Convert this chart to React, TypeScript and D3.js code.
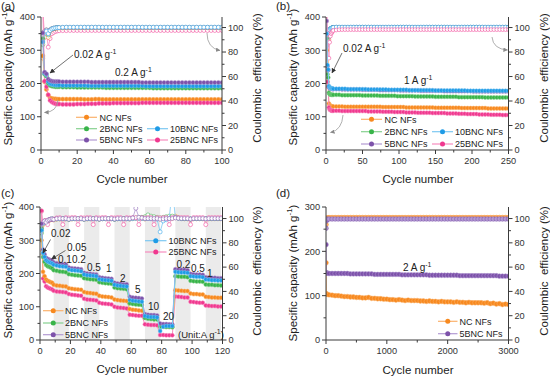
import React from "react";
import * as d3 from "d3";

const FONT = "Arial, 'Liberation Sans', Helvetica, sans-serif";

const NAMES = ["NC NFs", "2BNC NFs", "5BNC NFs", "10BNC NFs", "25BNC NFs"];
const DOT = ["#f7891f", "#38b449", "#7d52aa", "#1f9be6", "#f0388f"];
const LINE = ["#fbb26c", "#86d18f", "#b39ad3", "#7cc8f2", "#f78cbf"];

// ---------------- Panel (a): 0.2 A g-1, 100 cycles ----------------
const cyclesA = [1, 2, 3, 4, 5, 6, 7, 8, 9, 10, ...d3.range(12, 101, 2)];
const capA_NC = [283,205,182,165,157,155,154,154,153,153, 153,153,153,153,153,153,152,152,152,153, 153,152,152,152,152,152,152,152,152,152, 152,152,152,152,152,152,152,152,152,152, 152,152,152,152,152,152,152,152,152,152, 152,152,152,152,152];
const capA_2B = [335,228,222,200,194,192,191,190,190,190, 189,189,189,189,188,188,188,188,188,188, 188,188,187,187,187,187,187,187,187,187, 187,187,187,187,187,186,186,186,186,186, 186,186,186,186,186,186,186,186,186,186, 186,186,186,186,186];
const capA_5B = [352,234,229,213,209,207,206,206,206,206, 205,205,205,205,205,205,205,205,204,204, 204,204,204,204,204,204,204,204,204,204, 204,204,203,203,203,203,203,203,203,203, 203,203,203,203,203,203,203,203,203,203, 203,203,203,203,203];
const capA_10B = [325,231,226,206,199,197,196,195,195,195, 194,194,194,194,194,194,194,193,193,193, 193,193,193,193,193,193,193,193,193,193, 193,193,193,192,192,192,192,192,192,192, 192,192,192,192,192,192,192,192,192,192, 192,192,192,192,192];
const capA_25B = [430,207,190,166,149,144,141,139,138,138, 137,137,137,137,138,138,138,139,139,139, 140,140,140,140,141,141,141,141,141,141, 141,141,142,142,142,142,142,142,142,142, 142,142,142,142,142,142,142,142,142,142, 142,142,142,142,142];
const ceA_NC = [75,95,97,92,97,98.5,99,99.4,99.6,99.7, 99.7,99.8,99.8,99.8,99.8,99.8,99.8,99.8,99.9,99.9, 99.9,99.9,99.9,99.9,99.9,99.9,99.9,99.9,99.9,99.9, 99.9,99.9,99.9,99.9,99.9,99.9,99.9,99.9,99.9,99.9, 99.9,99.9,99.9,99.9,99.9,99.9,99.9,99.9,99.9,99.9, 99.9,99.9,99.9,99.9,99.9];
const ceA_2B = [86,97,98,94,98,99,99.4,99.6,99.8,99.9, 100,100,100,100,100,100,100,100,100,100, 100,100,100,100,100,100,100,100,100,100, 100,100,100,100,100,100,100,100,100,100, 100,100,100,100,100,100,100,100,100,100, 100,100,100,100,100];
const ceA_5B = [90,97,98,95,98,99,99.5,99.7,99.8,99.9, 100.1,100.1,100.1,100.1,100.1,100.1,100.1,100.1,100.1,100.1, 100.1,100.1,100.1,100.1,100.1,100.1,100.1,100.1,100.1,100.1, 100.1,100.1,100.1,100.1,100.1,100.1,100.1,100.1,100.1,100.1, 100.1,100.1,100.1,100.1,100.1,100.1,100.1,100.1,100.1,100.1, 100.1,100.1,100.1,100.1,100.1];
const ceA_10B = [93,96,97,95,97.5,98.8,99.4,99.7,99.9,100, 100.2,100.3,100.3,100.3,100.3,100.3,100.3,100.3,100.3,100.3, 100.3,100.3,100.3,100.3,100.3,100.3,100.3,100.3,100.3,100.3, 100.3,100.3,100.3,100.3,100.3,100.3,100.3,100.3,100.3,100.3, 100.3,100.3,100.3,100.3,100.3,100.3,100.3,100.3,100.3,100.3, 100.3,100.3,100.3,100.3,100.3];
const ceA_25B = [115,92,96,84,91,95,96,96.8,97.2,97.4, 97.5,97.5,97.6,97.6,97.6,97.6,97.6,97.6,97.6,97.6, 97.6,97.6,97.6,97.6,97.6,97.6,97.6,97.6,97.6,97.6, 97.6,97.6,97.6,97.6,97.6,97.6,97.6,97.6,97.6,97.6, 97.6,97.6,97.6,97.6,97.6,97.6,97.6,97.6,97.6,97.6, 97.6,97.6,97.6,97.6,97.6];

// ---------------- Panel (b): 1 A g-1, 250 cycles ----------------
const cyclesB = [1, 2, 3, 4, 5, 6, 7, 8, 9, ...d3.range(10, 251, 4)];
const capB_NC = [300,205,192,140,135,133,132,131,131, 131,131,131,131,130,130,130,130,130,130, 130,130,130,130,130,130,130,129,129,129, 129,129,129,129,129,128,128,128,128,128, 128,128,128,128,128,127,127,127,127,127, 127,127,127,127,126,126,126,126,126,126, 126,126,126,125,125,125,125,125,125,125, 125];
const capB_2B = [335,228,218,172,168,167,166,166,166, 166,166,166,165,165,165,165,165,165,165, 164,164,164,164,164,164,163,163,163,163, 163,163,162,162,162,162,162,162,161,161, 161,161,161,161,161,160,160,160,160,160, 160,160,160,159,159,159,159,159,159,159, 159,159,158,158,158,158,158,158,158,158, 158];
const capB_5B = [388,252,240,190,186,185,184,184,183, 183,183,183,182,182,182,182,182,182,182, 181,181,181,181,181,181,180,180,180,180, 180,180,180,179,179,179,179,179,179,179, 178,178,178,178,178,178,178,178,177,177, 177,177,177,177,177,177,177,177,176,176, 176,176,176,176,176,176,176,176,176,176, 176];
const capB_10B = [350,256,242,192,188,187,186,185,185, 184,184,184,184,184,183,183,183,183,183, 183,183,182,182,182,182,182,182,182,181, 181,181,181,181,181,181,180,180,180,180, 180,180,180,180,180,179,179,179,179,179, 179,179,179,179,179,179,178,178,178,178, 178,178,178,178,178,178,178,178,178,178, 178];
const capB_25B = [430,205,190,128,122,120,119,118,118, 118,118,118,117,117,117,117,117,117,117, 117,117,116,116,116,116,116,115,115,115, 115,114,114,114,114,113,113,113,113,112, 112,112,112,112,111,111,111,111,111,110, 110,110,110,109,109,109,108,108,108,108, 107,107,107,107,106,106,106,106,105,105, 105];
const ceB_NC = [72,96,98,90,97,98.5,99,99.5,99.7, 99.9,100,100,100,100,100,100,100,100,100, 100,100,100,100,100,100,100,100,100,100, 100,100,100,100,100,100,100,100,100,100, 100,100,100,100,100,100,100,100,100,100, 100,100,100,100,100,100,100,100,100,100, 100,100,100,100,100,100,100,100,100,100, 100];
const ceB_2B = [85,97,98,92,97,99,99.4,99.6,99.8, 100,100.2,100.2,100.2,100.2,100.2,100.2,100.2,100.2,100.2, 100.2,100.2,100.2,100.2,100.2,100.2,100.2,100.2,100.2,100.2, 100.2,100.2,100.2,100.2,100.2,100.2,100.2,100.2,100.2,100.2, 100.2,100.2,100.2,100.2,100.2,100.2,100.2,100.2,100.2,100.2, 100.2,100.2,100.2,100.2,100.2,100.2,100.2,100.2,100.2,100.2, 100.2,100.2,100.2,100.2,100.2,100.2,100.2,100.2,100.2,100.2, 100.2];
const ceB_5B = [60,96,98,93,97,99,99.4,99.6,99.8, 100,100.2,100.2,100.2,100.2,100.2,100.2,100.2,100.2,100.2, 100.2,100.2,100.2,100.2,100.2,100.2,100.2,100.2,100.2,100.2, 100.2,100.2,100.2,100.2,100.2,100.2,100.2,100.2,100.2,100.2, 100.2,100.2,100.2,100.2,100.2,100.2,100.2,100.2,100.2,100.2, 100.2,100.2,100.2,100.2,100.2,100.2,100.2,100.2,100.2,100.2, 100.2,100.2,100.2,100.2,100.2,100.2,100.2,100.2,100.2,100.2, 100.2];
const ceB_10B = [90,97,98,93,98,99,99.5,99.7,99.8, 100.2,100.4,100.4,100.4,100.4,100.4,100.4,100.4,100.4,100.4, 100.4,100.4,100.4,100.4,100.4,100.4,100.4,100.4,100.4,100.4, 100.4,100.4,100.4,100.4,100.4,100.4,100.4,100.4,100.4,100.4, 100.4,100.4,100.4,100.4,100.4,100.4,100.4,100.4,100.4,100.4, 100.4,100.4,100.4,100.4,100.4,100.4,100.4,100.4,100.4,100.4, 100.4,100.4,100.4,100.4,100.4,100.4,100.4,100.4,100.4,100.4, 100.4];
const ceB_25B = [115,90,95,75,88,93,95,96,97, 97.6,98,98.2,98.3,98.3,98.3,98.3,98.3,98.3,98.3, 98.3,98.3,98.3,98.3,98.3,98.3,98.3,98.3,98.3,98.3, 98.3,98.3,98.3,98.3,98.3,98.3,98.3,98.3,98.3,98.3, 98.3,98.3,98.3,98.3,98.3,98.3,98.3,98.3,98.3,98.3, 98.3,98.3,98.3,98.3,98.3,98.3,98.3,98.3,98.3,98.3, 98.3,98.3,98.3,98.3,98.3,98.3,98.3,98.3,98.3,98.3, 98.3];

// ---------------- Panel (c): rate test, 120 cycles ----------------
const cyclesC = [1, 2, 3, 4, 5, 6, 7, 8, ...d3.range(9, 120, 2)];
const bandsC: [number, number][] = [[9, 19], [29, 39], [49, 59], [69, 79], [89, 99], [109, 119]];
const rateLabelsC = ["0.02", "0.05", "0.1", "0.2", "0.5", "1", "2", "5", "10", "20", "0.2", "0.5", "1"];
const capC_NC = [300,205,192, 182,178,176,174,172, 166,164,163,162,161, 156,154,153,152,151, 144,142,141,140,139, 133,131,130,129,128, 122,120,119,118,117, 93,91,90,89,88, 68,67,66,66,65, 42,41,40,40,40, 150,149,148,147,147, 140,138,138,137,137, 130,129,128,128,127,127];
const capC_2B = [335,250,235, 226,222,220,218,216, 210,208,206,205,204, 198,196,195,194,193, 186,184,183,182,181, 174,172,171,170,169, 158,156,155,154,153, 110,108,107,106,105, 66,64,63,62,62, 40,40,39,39,38, 192,191,190,190,189, 178,177,176,176,175, 167,166,166,165,165,164];
const capC_5B = [350,272,258, 247,244,242,240,238, 233,231,229,228,227, 218,216,215,214,213, 202,200,199,198,197, 189,187,186,185,184, 172,170,169,168,168, 130,128,127,126,125, 78,76,75,75,74, 50,48,48,47,47, 213,212,211,211,210, 199,198,197,197,196, 189,188,187,187,186,186];
const capC_10B = [330,262,250, 240,236,234,232,230, 226,224,222,221,220, 212,210,209,208,207, 197,195,194,193,192, 183,181,180,179,178, 166,164,163,162,161, 120,118,117,116,115, 72,70,69,69,68, 27,40,42,42,42, 205,204,203,203,202, 192,191,190,190,189, 182,181,180,180,179,179];
const capC_25B = [389,185,176, 162,158,156,154,152, 148,146,145,144,143, 138,136,135,134,133, 124,122,121,120,119, 112,110,109,108,107, 100,98,97,96,95, 76,75,74,73,73, 47,46,45,45,44, 15,15,14,14,14, 131,130,129,128,128, 115,114,113,112,112, 104,103,102,102,101,101];
const ceC_NC = [72,95,97,97,98,98.5,99,99.2, 98.8,99.5,99.6,99.7,99.7, 99.2,99.6,99.7,99.7,99.8, 99.3,99.7,99.8,99.8,99.8, 99.4,99.8,99.8,99.8,99.8, 99.4,99.8,99.9,99.9,99.9, 99.5,99.9,100,100,100, 99.6,100,100,100,100, 99.5,100,100.2,100.2,100.2, 102,100.5,100,99.8,99.8, 99.4,99.8,99.8,99.8,99.8, 99.6,99.8,99.8,99.8,99.8,99.8];
const ceC_2B = [88,96,98,97,98,99,99.4,99.6, 99.2,99.8,99.9,99.9,99.9, 99.4,99.9,99.9,99.9,99.9, 99.5,99.9,100,100,100, 99.6,100,100,100,100, 99.6,100,100,100,100, 100,100.4,100.6,101,101, 101.5,103,102,101.5,101, 100.5,101,101.5,102,102, 101,100.5,100,100,100, 99.6,100,100,100,100, 99.8,100,100,100,100,100];
const ceC_5B = [92,97,98,97,98.5,99,99.5,99.7, 99.3,99.9,100,100,100, 99.5,100,100,100,100, 99.5,100,100,100,100, 99.6,100,100,100,100, 99.6,100,100,100,100, 100,100.5,108.5,101,100.5, 100,100,100,100,100, 99.5,99.8,100,100,100, 100.5,100.2,100,100,100, 99.6,100,100,100,100, 99.8,100,100,100,100,100];
const ceC_10B = [90,96,97.5,97,98,99,99.4,99.6, 99.2,99.7,99.8,99.8,99.8, 99.4,99.8,99.8,99.8,99.8, 99.4,99.8,99.8,99.8,99.8, 99.5,99.8,99.8,99.8,99.8, 99.4,99.8,99.8,99.8,99.8, 99.6,99.9,100,100,100, 99.8,99.9,99.8,99.6,99.5, 89,98,99,100,125, 101,100.3,100,100,100, 99.6,100,100,100,100, 99.8,100,100,100,100,100];
const ceC_25B = [106,97,98,98.5,95,99,99.3,99.5, 99.5,100.5,100.8,95,100.8, 100.5,100.8,100.8,95,100.8, 100.5,100.8,100.8,95,100.8, 100.5,100.8,100.8,95,100.8, 100.5,100.8,100.8,95,100.8, 100.5,100.8,100.8,95,100.8, 100.5,100.8,100.8,95,100.8, 100.5,100.8,100.8,95,100.8, 100.8,100.8,100.8,100.8,100.8, 95,100.8,100.8,100.8,100.8, 95,100.8,100.8,100.8,100.8,100.8];

// ---------------- Panel (d): 2 A g-1, 3000 cycles ----------------
const cyclesD = [1, 5, 10, 20, ...d3.range(50, 3001, 50)];
const capD_NC = [174,104,104,103, 102,101,100,100,99,98,98,97,97,96, 96,95,95,96,94,94,93,93,92,92, 91,91,90,91,90,89,90,89,89,89, 88,88,87,88,87,87,86,87,86,86, 86,85,86,85,85,84,85,84,84,84, 84,83,84,82,83,81,82,80,81,80];
const capD_5B = [215,152,151,151, 150,150,150,150,150,150,150,149,149,149, 149,149,149,149,149,148,148,148,148,148, 148,148,148,148,147,147,147,147,147,147, 147,147,147,146,146,146,146,146,146,146, 146,146,146,145,145,145,145,145,145,145, 145,145,145,145,145,145,144,144,144,144];
const ceD_NC = [95,99,100,100.5, 100.8,100.8,100.8,100.8,100.8,100.8,100.8,100.8,100.8,100.8, 100.8,100.8,100.8,100.8,100.8,100.8,100.8,100.8,100.8,100.8, 100.8,100.8,100.8,100.8,100.8,100.8,100.8,100.8,100.8,100.8, 100.8,100.8,100.8,100.8,100.8,100.8,100.8,100.8,100.8,100.8, 100.8,100.8,100.8,100.8,100.8,100.8,100.8,100.8,100.8,100.8, 100.8,100.8,100.8,100.8,100.8,100.8,100.8,100.8,100.8,100.8];
const ceD_5B = [92,98,99,99.5, 99.6,99.6,99.6,99.6,99.6,99.6,99.6,99.6,99.6,99.6, 99.6,99.6,99.6,99.6,99.6,99.6,99.6,99.6,99.6,99.6, 99.6,99.6,99.6,99.6,99.6,99.6,99.6,99.6,99.6,99.6, 99.6,99.6,99.6,99.6,99.6,99.6,99.6,99.6,99.6,99.6, 99.6,99.6,99.6,99.6,99.6,99.6,99.6,99.6,99.6,99.6, 99.6,99.6,99.6,99.6,99.6,99.6,99.6,99.6,99.6,99.6];

type S = { xs: number[]; ys: number[]; k: number };

type PanelProps = {
  id: string;
  L: number; R: number; T: number; B: number;
  xDom: [number, number]; xTicks: number[]; xMinor: number[];
  yDom: [number, number]; yTicks: number[]; yMinor: number[];
  rDom: [number, number];
  cap: S[]; ce: S[];
  bands?: [number, number][];
  capR: number; ceR: number; ceFill?: boolean;
};

const AX = "#3a3a3a";
const TICKTXT = "#333";

function Panel(p: PanelProps) {
  const { L, R, T, B } = p;
  const x = d3.scaleLinear().domain(p.xDom).range([L, R]);
  const y = d3.scaleLinear().domain(p.yDom).range([B, T]);
  const yr = d3.scaleLinear().domain(p.rDom).range([B, T]);
  const rTicks = [0, 20, 40, 60, 80, 100];
  const rMinor = [10, 30, 50, 70, 90];
  const ln = d3.line<[number, number]>();
  const pts = (s: S, sc: d3.ScaleLinear<number, number>) =>
    s.xs.slice(0, s.ys.length).map((v, j) => [x(v), sc(s.ys[j])] as [number, number]);
  return (
    <g>
      <defs>
        <clipPath id={p.id}>
          <rect x={L} y={T} width={R - L} height={B - T} />
        </clipPath>
      </defs>
      {(p.bands || []).map(([a, b], i) => (
        <rect key={i} x={x(a)} y={T} width={x(b) - x(a)} height={B - T} fill="#ebebeb" />
      ))}
      <g clipPath={`url(#${p.id})`}>
        {p.ce.map((s, i) => {
          const P = pts(s, yr);
          return (
            <g key={"ce" + i}>
              <path d={ln(P) || ""} fill="none" stroke={LINE[s.k]} strokeWidth={0.8} />
              {P.map((q, j) => (
                <circle key={j} cx={q[0]} cy={q[1]} r={p.ceR} fill={p.ceFill ? LINE[s.k] : "#fff"} stroke={DOT[s.k]} strokeOpacity={0.75} strokeWidth={0.7} />
              ))}
            </g>
          );
        })}
        {p.cap.map((s, i) => {
          const P = pts(s, y);
          return (
            <g key={"cap" + i}>
              <path d={ln(P) || ""} fill="none" stroke={LINE[s.k]} strokeWidth={1} />
              {P.map((q, j) => (
                <circle key={j} cx={q[0]} cy={q[1]} r={p.capR} fill={DOT[s.k]} stroke={LINE[s.k]} strokeWidth={0.5} />
              ))}
            </g>
          );
        })}
      </g>
      <line x1={L} x2={L} y1={T} y2={B} stroke={AX} strokeWidth={1} />
      <line x1={R} x2={R} y1={T} y2={B} stroke={AX} strokeWidth={1} />
      <line x1={L} x2={R} y1={B} y2={B} stroke={AX} strokeWidth={1} />
      {p.xTicks.map((t) => (
        <g key={"xt" + t}>
          <line x1={x(t)} x2={x(t)} y1={B} y2={B + 4} stroke={AX} />
          <text x={x(t)} y={B + 14} textAnchor="middle" fontSize={9.2} fill={TICKTXT}>{t}</text>
        </g>
      ))}
      {p.xMinor.map((t) => (
        <line key={"xm" + t} x1={x(t)} x2={x(t)} y1={B} y2={B + 2.5} stroke={AX} />
      ))}
      {p.yTicks.map((t) => (
        <g key={"yt" + t}>
          <line x1={L - 4} x2={L} y1={y(t)} y2={y(t)} stroke={AX} />
          <text x={L - 6} y={y(t) + 3.3} textAnchor="end" fontSize={9.2} fill={TICKTXT}>{t}</text>
        </g>
      ))}
      {p.yMinor.map((t) => (
        <line key={"ym" + t} x1={L - 2.5} x2={L} y1={y(t)} y2={y(t)} stroke={AX} />
      ))}
      {rTicks.map((t) => (
        <g key={"rt" + t}>
          <line x1={R} x2={R + 4} y1={yr(t)} y2={yr(t)} stroke={AX} />
          <text x={R + 6} y={yr(t) + 3.3} textAnchor="start" fontSize={9.2} fill={TICKTXT}>{t}</text>
        </g>
      ))}
      {rMinor.map((t) => (
        <line key={"rm" + t} x1={R} x2={R + 2.5} y1={yr(t)} y2={yr(t)} stroke={AX} />
      ))}
    </g>
  );
}

function CapTitle({ x, y }: { x: number; y: number }) {
  return (
    <text transform={`translate(${x},${y}) rotate(-90)`} textAnchor="middle" fontSize={11.5} fill="#222">
      Specific capacity (mAh g<tspan dy={-4.5} fontSize={8}>-1</tspan><tspan dy={4.5}>)</tspan>
    </text>
  );
}
function CeTitle({ x, y }: { x: number; y: number }) {
  return (
    <text transform={`translate(${x},${y}) rotate(-90)`} textAnchor="middle" fontSize={11.5} fill="#222">
      {"Coulombic\u00a0\u00a0efficiency (%)"}
    </text>
  );
}
function XTitle({ x, y }: { x: number; y: number }) {
  return (
    <text x={x} y={y} textAnchor="middle" fontSize={11.5} fill="#222">Cycle number</text>
  );
}
function LegItem({ x1, x2, tx, y, k }: { x1: number; x2: number; tx: number; y: number; k: number }) {
  return (
    <g>
      <line x1={x1} x2={x2} y1={y} y2={y} stroke={LINE[k]} strokeWidth={1.2} />
      <circle cx={(x1 + x2) / 2} cy={y} r={2.5} fill={DOT[k]} />
      <text x={tx} y={y + 3.3} fontSize={9} fill="#222">{NAMES[k]}</text>
    </g>
  );
}
function AG({ x, y, rate }: { x: number; y: number; rate: string }) {
  return (
    <text x={x} y={y} fontSize={10} fill="#222">
      {rate} A g<tspan dy={-4} fontSize={7}>-1</tspan>
    </text>
  );
}

export default function App() {
  const yT = [0, 100, 200, 300, 400];
  const yM = [50, 150, 250, 350];
  return (
    <svg width={550} height={376} fontFamily={FONT} style={{ position: "absolute", left: 0, top: 0, background: "#fff" }}>
      <defs>
        <marker id="ah" viewBox="0 0 6 6" refX="5.5" refY="3" markerWidth="5" markerHeight="5" markerUnits="userSpaceOnUse" orient="auto">
          <path d="M0,0L6,3L0,6z" fill="#333" />
        </marker>
        <marker id="ahg" viewBox="0 0 6 6" refX="5.5" refY="3" markerWidth="4.5" markerHeight="4.5" markerUnits="userSpaceOnUse" orient="auto">
          <path d="M0,0L6,3L0,6z" fill="#8a8a8a" />
        </marker>
      </defs>

      {/* ---------- (a) ---------- */}
      <Panel id="ca" L={41} R={222} T={17} B={150}
        xDom={[0, 100]} xTicks={[0, 20, 40, 60, 80, 100]} xMinor={[10, 30, 50, 70, 90]}
        yDom={[0, 400]} yTicks={yT} yMinor={yM} rDom={[0, 108.6]}
        capR={2.1} ceR={2}
        ce={[
          { xs: cyclesA, ys: ceA_25B, k: 4 }, { xs: cyclesA, ys: ceA_NC, k: 0 }, { xs: cyclesA, ys: ceA_2B, k: 1 },
          { xs: cyclesA, ys: ceA_5B, k: 2 }, { xs: cyclesA, ys: ceA_10B, k: 3 },
        ]}
        cap={[
          { xs: cyclesA, ys: capA_NC, k: 0 }, { xs: cyclesA, ys: capA_25B, k: 4 }, { xs: cyclesA, ys: capA_2B, k: 1 },
          { xs: cyclesA, ys: capA_10B, k: 3 }, { xs: cyclesA, ys: capA_5B, k: 2 },
        ]}
      />
      <text x={1} y={10} fontSize={11.5} fill="#222">(a)</text>
      <CapTitle x={11.5} y={77} />
      <CeTitle x={261} y={78} />
      <XTitle x={132} y={183} />
      <AG x={74} y={58} rate="0.02" />
      <line x1={73} y1={55} x2={50} y2={73} stroke="#333" strokeWidth={0.7} markerEnd="url(#ah)" />
      <AG x={115} y={76} rate="0.2" />
      <path d="M207,33 Q207,48 220,50.5" fill="none" stroke="#9a9a9a" strokeWidth={0.8} markerEnd="url(#ahg)" />
      <path d="M58,100 Q57,112 44.5,112.5" fill="none" stroke="#9a9a9a" strokeWidth={0.8} markerEnd="url(#ahg)" />
      <LegItem x1={76} x2={97} tx={99.5} y={117.3} k={0} />
      <LegItem x1={76} x2={97} tx={99.5} y={128.7} k={1} />
      <LegItem x1={76} x2={97} tx={99.5} y={140} k={2} />
      <LegItem x1={147} x2={168} tx={170} y={128.7} k={3} />
      <LegItem x1={147} x2={168} tx={170} y={140} k={4} />

      {/* ---------- (b) ---------- */}
      <Panel id="cb" L={326} R={508.5} T={17} B={150}
        xDom={[0, 250]} xTicks={[0, 50, 100, 150, 200, 250]} xMinor={[25, 75, 125, 175, 225]}
        yDom={[0, 400]} yTicks={yT} yMinor={yM} rDom={[0, 108.6]}
        capR={2} ceR={1.9}
        ce={[
          { xs: cyclesB, ys: ceB_NC, k: 0 }, { xs: cyclesB, ys: ceB_2B, k: 1 }, { xs: cyclesB, ys: ceB_5B, k: 2 },
          { xs: cyclesB, ys: ceB_10B, k: 3 }, { xs: cyclesB, ys: ceB_25B, k: 4 },
        ]}
        cap={[
          { xs: cyclesB, ys: capB_NC, k: 0 }, { xs: cyclesB, ys: capB_25B, k: 4 }, { xs: cyclesB, ys: capB_2B, k: 1 },
          { xs: cyclesB, ys: capB_5B, k: 2 }, { xs: cyclesB, ys: capB_10B, k: 3 },
        ]}
      />
      <text x={276} y={10} fontSize={11.5} fill="#222">(b)</text>
      <CapTitle x={296.5} y={77} />
      <CeTitle x={547.5} y={78} />
      <XTitle x={418} y={183} />
      <AG x={343} y={51.5} rate="0.02" />
      <line x1={342} y1={53} x2={332} y2={73} stroke="#333" strokeWidth={0.7} markerEnd="url(#ah)" />
      <AG x={404} y={83.5} rate="1" />
      <path d="M492,37 Q493,49 507.5,50" fill="none" stroke="#9a9a9a" strokeWidth={0.8} markerEnd="url(#ahg)" />
      <path d="M343,115 Q342,130 330.5,132.5" fill="none" stroke="#9a9a9a" strokeWidth={0.8} markerEnd="url(#ahg)" />
      <LegItem x1={361} x2={382} tx={384.5} y={119.3} k={0} />
      <LegItem x1={361} x2={382} tx={384.5} y={131.7} k={1} />
      <LegItem x1={361} x2={382} tx={384.5} y={144} k={2} />
      <LegItem x1={432} x2={453} tx={455} y={131.7} k={3} />
      <LegItem x1={432} x2={453} tx={455} y={144} k={4} />

      {/* ---------- (c) ---------- */}
      <Panel id="cc" L={40} R={222.5} T={207} B={340}
        xDom={[0, 120]} xTicks={[0, 20, 40, 60, 80, 100, 120]} xMinor={[10, 30, 50, 70, 90, 110]}
        yDom={[0, 400]} yTicks={yT} yMinor={yM} rDom={[0, 109.5]}
        capR={2} ceR={2}
        bands={bandsC}
        ce={[
          { xs: cyclesC, ys: ceC_NC, k: 0 }, { xs: cyclesC, ys: ceC_2B, k: 1 }, { xs: cyclesC, ys: ceC_10B, k: 3 },
          { xs: cyclesC, ys: ceC_25B, k: 4 }, { xs: cyclesC, ys: ceC_5B, k: 2 },
        ]}
        cap={[
          { xs: cyclesC, ys: capC_25B, k: 4 }, { xs: cyclesC, ys: capC_NC, k: 0 }, { xs: cyclesC, ys: capC_2B, k: 1 },
          { xs: cyclesC, ys: capC_5B, k: 2 }, { xs: cyclesC, ys: capC_10B, k: 3 },
        ]}
      />
      <text x={1} y={197} fontSize={11.5} fill="#222">(c)</text>
      <CapTitle x={11.5} y={270} />
      <CeTitle x={261} y={271} />
      <XTitle x={132} y={373} />
      <text x={51} y={237} fontSize={10} fill="#222">{rateLabelsC[0]}</text>
      <line x1={50.5} y1={239.5} x2={43} y2={253} stroke="#333" strokeWidth={0.7} markerEnd="url(#ah)" />
      <text x={67} y={250.5} fontSize={10} fill="#222">{rateLabelsC[1]}</text>
      <line x1={65.5} y1={250.5} x2={51.5} y2={259} stroke="#333" strokeWidth={0.7} markerEnd="url(#ah)" />
      <text x={58} y={263} fontSize={10} fill="#222">{rateLabelsC[2]}</text>
      <text x={72} y={263} fontSize={10} fill="#222">{rateLabelsC[3]}</text>
      <text x={87} y={271} fontSize={10} fill="#222">{rateLabelsC[4]}</text>
      <text x={106} y={272} fontSize={10} fill="#222">{rateLabelsC[5]}</text>
      <text x={120} y={282} fontSize={10} fill="#222">{rateLabelsC[6]}</text>
      <text x={135} y={293} fontSize={10} fill="#222">{rateLabelsC[7]}</text>
      <text x={148} y={310} fontSize={10} fill="#222">{rateLabelsC[8]}</text>
      <text x={163} y={320} fontSize={10} fill="#222">{rateLabelsC[9]}</text>
      <text x={176.5} y={268} fontSize={10} fill="#222">{rateLabelsC[10]}</text>
      <text x={191} y={272} fontSize={10} fill="#222">{rateLabelsC[11]}</text>
      <text x={207} y={277} fontSize={10} fill="#222">{rateLabelsC[12]}</text>
      <text x={178} y={338} fontSize={9.5} fill="#222">
        (Unit:A g<tspan dy={-4} fontSize={7}>-1</tspan><tspan dy={4}>)</tspan>
      </text>
      <LegItem x1={145} x2={166.5} tx={168.5} y={240.7} k={3} />
      <LegItem x1={145} x2={166.5} tx={168.5} y={252} k={4} />
      <LegItem x1={43} x2={63.5} tx={65} y={310.7} k={0} />
      <LegItem x1={43} x2={63.5} tx={65} y={323} k={1} />
      <LegItem x1={43} x2={63.5} tx={65} y={334.7} k={2} />

      {/* ---------- (d) ---------- */}
      <Panel id="cd" L={326} R={508.5} T={207} B={340}
        xDom={[0, 3000]} xTicks={[0, 1000, 2000, 3000]} xMinor={[500, 1500, 2500]}
        yDom={[0, 300]} yTicks={[0, 100, 200, 300]} yMinor={[50, 150, 250]} rDom={[0, 109.5]}
        capR={2.4} ceR={2.3} ceFill={true}
        ce={[
          { xs: cyclesD, ys: ceD_NC, k: 0 }, { xs: cyclesD, ys: ceD_5B, k: 2 },
        ]}
        cap={[
          { xs: cyclesD, ys: capD_NC, k: 0 }, { xs: cyclesD, ys: capD_5B, k: 2 },
        ]}
      />
      <text x={276} y={197} fontSize={11.5} fill="#222">(d)</text>
      <CapTitle x={296.5} y={273} />
      <CeTitle x={547.5} y={271} />
      <XTitle x={418} y={374} />
      <AG x={403} y={270.5} rate="2" />
      <LegItem x1={438} x2={457.5} tx={459.5} y={321.3} k={0} />
      <LegItem x1={438} x2={457.5} tx={459.5} y={333.7} k={2} />
    </svg>
  );
}
